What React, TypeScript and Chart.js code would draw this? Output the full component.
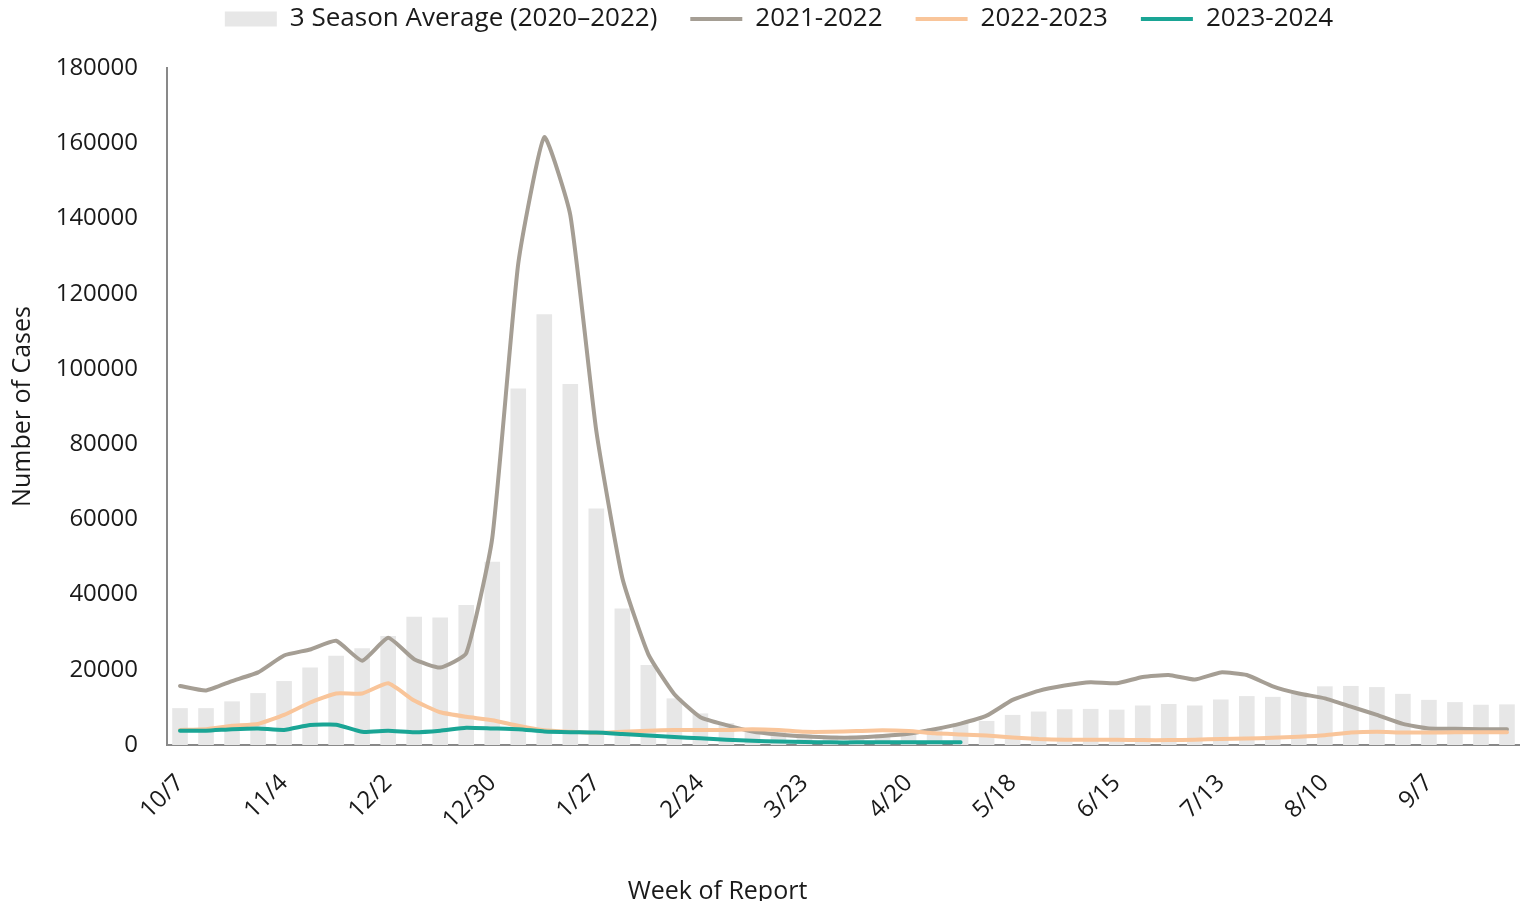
import React, { useEffect, useRef } from "react";
import { Chart, registerables } from "chart.js";

Chart.register(...registerables);

const weekLabels = [
  "10/7", "10/14", "10/21", "10/28", "11/4", "11/11", "11/18", "11/25",
  "12/2", "12/9", "12/16", "12/23", "12/30", "1/6", "1/13", "1/20",
  "1/27", "2/3", "2/10", "2/17", "2/24", "3/2", "3/9", "3/16",
  "3/23", "3/30", "4/6", "4/13", "4/20", "4/27", "5/4", "5/11",
  "5/18", "5/25", "6/1", "6/8", "6/15", "6/22", "6/29", "7/6",
  "7/13", "7/20", "7/27", "8/3", "8/10", "8/17", "8/24", "8/31",
  "9/7", "9/14", "9/21", "9/28",
];

const avg3Season = [
  9800, 9800, 11600, 13800, 17000, 20600, 23700, 25700,
  29000, 34100, 33900, 37200, 48700, 94800, 114500, 96000,
  62900, 36300, 21300, 12400, 8400, 5800, 4400, 3500,
  2800, 2500, 2500, 2800, 3300, 4500, 5800, 6400,
  8000, 8900, 9500, 9600, 9400, 10500, 10900, 10500,
  12100, 13000, 12800, 13700, 15600, 15700, 15400, 13600,
  12000, 11400, 10700, 10800,
];

const season2122 = [
  15700, 14500, 17000, 19300, 23800, 25400, 27700, 22400,
  28500, 22800, 20600, 24400, 55000, 128000, 161600, 140900,
  83500, 44400, 24100, 13500, 7400, 5300, 3600, 2800,
  2300, 2000, 2000, 2400, 3000, 4200, 5700, 7800,
  12000, 14400, 15800, 16700, 16400, 18100, 18600, 17400,
  19300, 18600, 15600, 13700, 12400, 10200, 8000, 5600,
  4400, 4300, 4200, 4200,
];

const season2223 = [
  4000, 4200, 5100, 5600, 8000, 11300, 13700, 13700,
  16400, 11800, 8700, 7500, 6600, 5100, 3900, 3500,
  3200, 3500, 3800, 4000, 4000, 4000, 4200, 4000,
  3500, 3500, 3700, 3900, 3700, 3100, 2800, 2500,
  2000, 1600, 1400, 1400, 1400, 1300, 1300, 1400,
  1600, 1700, 1900, 2200, 2600, 3300, 3500, 3300,
  3300, 3400, 3400, 3400,
];

const season2324 = [
  3800, 3800, 4200, 4400, 4000, 5300, 5400, 3500,
  3800, 3400, 3800, 4600, 4400, 4200, 3600, 3400,
  3300, 2900, 2500, 2100, 1800, 1400, 1100, 900,
  800, 700, 700, 700, 700, 700, 700,
];

const seriesNames = [
  "3 Season Average (2020\u20132022)",
  "2021-2022",
  "2022-2023",
  "2023-2024",
];

const xAxisTitle = "Week of Report";
const yAxisTitle = "Number of Cases";

const FONT = "'Open Sans', 'DejaVu Sans', sans-serif";
const TEXT = "#1a1a1a";
const AXIS = "#898989";

export default function App() {
  const canvasRef = useRef<HTMLCanvasElement | null>(null);

  useEffect(() => {
    if (!canvasRef.current) return;
    const legendSpacer = {
      id: "legendSpacer",
      beforeInit(chart: any) {
        const legend = chart.legend;
        if (!legend) return;
        const origFit = legend.fit;
        legend.fit = function () {
          origFit.call(this);
          this.height += 26;
        };
        const origDraw = legend.draw;
        legend.draw = function () {
          const ctx = this.ctx;
          ctx.save();
          ctx.translate(15, 0);
          origDraw.call(this);
          ctx.restore();
        };
      },
    };
    const xTitlePlugin = {
      id: "xTitlePlugin",
      afterDraw(chart: any) {
        const { ctx, chartArea } = chart;
        ctx.save();
        ctx.font = `25px ${FONT}`;
        ctx.fillStyle = TEXT;
        ctx.textAlign = "center";
        ctx.textBaseline = "middle";
        ctx.fillText(xAxisTitle, (chartArea.left + chartArea.right) / 2 - 126, chart.height - 9);
        ctx.restore();
      },
    };

    const lineCommon = {
      type: "line" as const,
      borderWidth: 4,
      pointRadius: 0,
      pointHoverRadius: 0,
      pointBorderWidth: 4,
      pointStyle: "line",
      tension: 0.15,
      fill: false,
      borderCapStyle: "round" as const,
      borderJoinStyle: "round" as const,
    };

    const chart = new Chart(canvasRef.current, {
      type: "bar",
      data: {
        labels: weekLabels,
        datasets: [
          {
            type: "bar",
            label: seriesNames[0],
            data: avg3Season,
            backgroundColor: "#e7e7e7",
            borderWidth: 0,
            barPercentage: 0.6,
            categoryPercentage: 1.0,
            pointStyle: "rect",
            order: 4,
          } as any,
          {
            ...lineCommon,
            label: seriesNames[1],
            data: season2122,
            borderColor: "#a59e94",
            backgroundColor: "#a59e94",
            pointBorderColor: "#a59e94",
            order: 3,
          } as any,
          {
            ...lineCommon,
            label: seriesNames[2],
            data: season2223,
            borderColor: "#f9c59a",
            backgroundColor: "#f9c59a",
            pointBorderColor: "#f9c59a",
            order: 2,
          } as any,
          {
            ...lineCommon,
            label: seriesNames[3],
            data: season2324,
            borderColor: "#1aa595",
            backgroundColor: "#1aa595",
            pointBorderColor: "#1aa595",
            order: 1,
          } as any,
        ],
      },
      options: {
        animation: false,
        responsive: true,
        maintainAspectRatio: false,
        layout: { padding: { top: -35, left: 0, right: 0, bottom: 0 } },
        font: { family: FONT },
        plugins: {
          tooltip: { enabled: false },
          legend: {
            position: "top",
            labels: {
              usePointStyle: true,
              pointStyleWidth: 52,
              boxHeight: 15,
              padding: 33,
              color: TEXT,
              font: { family: FONT, size: 26 },
              sort: (a: any, b: any) => a.datasetIndex - b.datasetIndex,
            },
          },
        },
        scales: {
          x: {
            offset: true,
            grid: { display: false, drawTicks: false },
            border: { display: true, color: AXIS, width: 2 },
            ticks: {
              autoSkip: false,
              maxRotation: 45,
              minRotation: 45,
              padding: 24,
              color: TEXT,
              font: { family: FONT, size: 24 },
              callback: (_v: any, i: number) => (i % 4 === 0 ? weekLabels[i] : ""),
            },
            afterFit: (scale: any) => {
              scale.height = 156;
              scale.paddingRight = 0;
              scale.paddingLeft = 0;
            },
          },
          y: {
            min: 0,
            max: 180000,
            grid: { display: false, drawTicks: false },
            border: { display: true, color: AXIS, width: 2 },
            ticks: {
              stepSize: 20000,
              padding: 29,
              color: TEXT,
              font: { family: FONT, size: 24 },
              callback: (v: any) => String(v),
            },
            title: {
              display: true,
              text: yAxisTitle,
              color: TEXT,
              font: { family: FONT, size: 25 },
              padding: 0,
            },
            afterFit: (scale: any) => {
              scale.width = 159;
            },
          },
        },
      } as any,
      plugins: [legendSpacer, xTitlePlugin],
    });
    return () => chart.destroy();
  }, []);

  return (
    <div style={{ width: 1512, height: 893, position: "relative" }}>
      <canvas ref={canvasRef} />
    </div>
  );
}
